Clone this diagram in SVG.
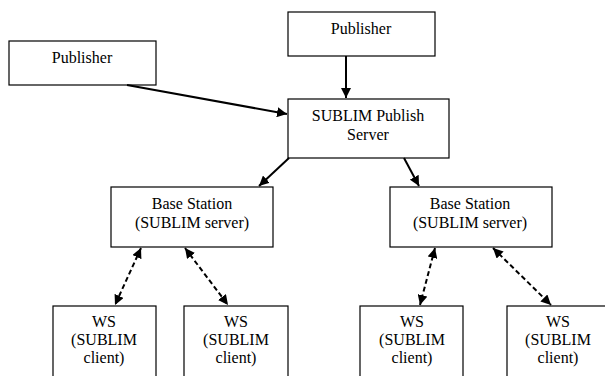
<svg xmlns="http://www.w3.org/2000/svg" width="605" height="376" viewBox="0 0 605 376">
<style>
.box{fill:#fff;stroke:#000;stroke-width:1.2}
text{font-family:"Liberation Serif","Times New Roman",serif;font-size:16px;fill:#000;text-anchor:middle}
.solid{stroke:#000;stroke-width:2;fill:none}
.dash{stroke:#000;stroke-width:2;fill:none;stroke-dasharray:5,3}
</style>
<defs>
<marker id="ah" viewBox="0 0 10 10" refX="10" refY="5" markerWidth="5" markerHeight="5" orient="auto-start-reverse" markerUnits="strokeWidth">
<path d="M0,0 L10,5 L0,10 z" fill="#000"/>
</marker>
</defs>
<g id="pub1"><rect class="box" x="9" y="41" width="147" height="44"/><text x="82" y="63">Publisher</text></g>
<g id="pub2"><rect class="box" x="288" y="12" width="147" height="44"/><text x="361" y="34">Publisher</text></g>
<g id="server"><rect class="box" x="288" y="99" width="161" height="59"/><text x="368" y="121">SUBLIM Publish</text><text x="368" y="140">Server</text></g>
<g id="bs1"><rect class="box" x="111" y="187" width="162" height="60"/><text x="192" y="209">Base Station</text><text x="192" y="228">(SUBLIM server)</text></g>
<g id="bs2"><rect class="box" x="390" y="187" width="162" height="60"/><text x="470" y="209">Base Station</text><text x="470" y="228">(SUBLIM server)</text></g>
<g id="ws1"><rect class="box" x="53" y="306" width="103" height="80"/><text x="104" y="327">WS</text><text x="104" y="345">(SUBLIM</text><text x="104" y="363">client)</text></g>
<g id="ws2"><rect class="box" x="184" y="306" width="104" height="80"/><text x="236" y="327">WS</text><text x="236" y="345">(SUBLIM</text><text x="236" y="363">client)</text></g>
<g id="ws3"><rect class="box" x="360" y="306" width="103" height="80"/><text x="412" y="327">WS</text><text x="412" y="345">(SUBLIM</text><text x="412" y="363">client)</text></g>
<g id="ws4"><rect class="box" x="507" y="306" width="104" height="80"/><text x="558" y="327">WS</text><text x="558" y="345">(SUBLIM</text><text x="558" y="363">client)</text></g>
<g id="connectors">
<line class="solid" x1="346" y1="56" x2="346" y2="98" marker-end="url(#ah)"/>
<line class="solid" x1="127" y1="85" x2="287" y2="114" marker-end="url(#ah)"/>
<line class="solid" x1="289" y1="158" x2="259" y2="186" marker-end="url(#ah)"/>
<line class="solid" x1="404" y1="158" x2="419" y2="186" marker-end="url(#ah)"/>
<line class="dash" x1="141" y1="248" x2="115" y2="305" marker-start="url(#ah)" marker-end="url(#ah)"/>
<line class="dash" x1="185" y1="248" x2="228" y2="305" marker-start="url(#ah)" marker-end="url(#ah)"/>
<line class="dash" x1="435" y1="248" x2="420" y2="305" marker-start="url(#ah)" marker-end="url(#ah)"/>
<line class="dash" x1="493" y1="248" x2="551" y2="305" marker-start="url(#ah)" marker-end="url(#ah)"/>
</g>
</svg>
